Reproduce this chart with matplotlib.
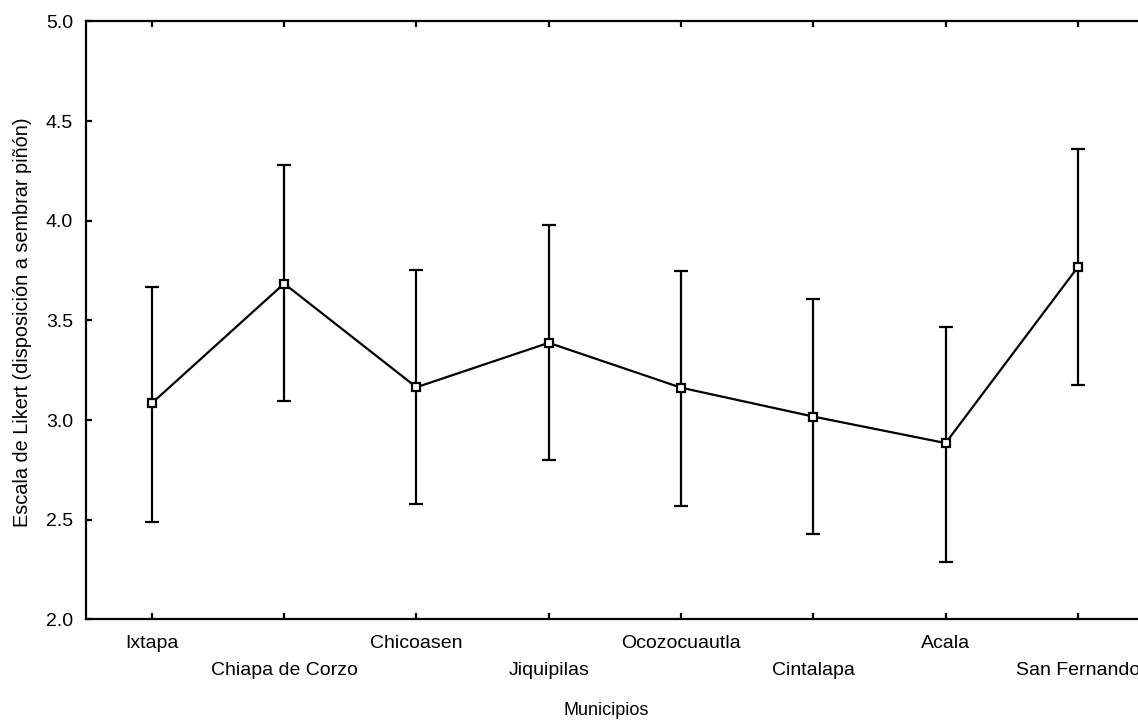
import matplotlib
matplotlib.use("Agg")
import matplotlib.pyplot as plt
import numpy as np

plt.rcParams['font.family'] = ['Liberation Sans', 'DejaVu Sans']

municipios = ["Ixtapa", "Chiapa de Corzo", "Chicoasen", "Jiquipilas",
              "Ocozocuautla", "Cintalapa", "Acala", "San Fernando"]
medias = [3.085, 3.685, 3.165, 3.388, 3.163, 3.018, 2.885, 3.768]
limite_sup = [3.668, 4.280, 3.755, 3.980, 3.748, 3.608, 3.468, 4.360]
limite_inf = [2.490, 3.097, 2.578, 2.798, 2.568, 2.430, 2.290, 3.177]
yticks = [2.0, 2.5, 3.0, 3.5, 4.0, 4.5, 5.0]

fig = plt.figure(figsize=(11.38, 7.21), dpi=100)
ax = fig.add_axes([0.0753, 0.1408, 0.9300, 0.8294])

x = np.arange(len(municipios))
medias_a = np.array(medias)
err = [medias_a - np.array(limite_inf), np.array(limite_sup) - medias_a]

ax.errorbar(x, medias_a, yerr=err, color='black', lw=1.6, elinewidth=1.6,
            capsize=4.7, capthick=1.6, marker='s', markersize=5.5,
            markerfacecolor='white', markeredgecolor='black', markeredgewidth=1.6)

ax.set_xlim(-0.5, len(municipios) - 0.5)
ax.set_ylim(2.0, 5.0)
ax.set_yticks(yticks, labels=[f"{v:.1f}" for v in yticks])

ax.set_xticks(x[0::2], labels=municipios[0::2])
ax.set_xticks(x[1::2], labels=municipios[1::2], minor=True)

for s in ax.spines.values():
    s.set_linewidth(1.6)

ax.tick_params(axis='both', which='both', direction='in', length=4, width=1.6,
               top=True, right=True, labelsize=14, colors='black')
ax.tick_params(axis='x', which='major', pad=11.5)
ax.tick_params(axis='x', which='minor', pad=30.5)
ax.tick_params(axis='y', pad=9)

ax.set_xlabel("Municipios", fontsize=13)
ax.set_ylabel("Escala de Likert (disposición a sembrar piñón)", fontsize=14.3)
ax.xaxis.set_label_coords(0.4916, -0.138)
ax.yaxis.set_label_coords(-0.051, 0.497)

fig.savefig("out.png", dpi=100)
